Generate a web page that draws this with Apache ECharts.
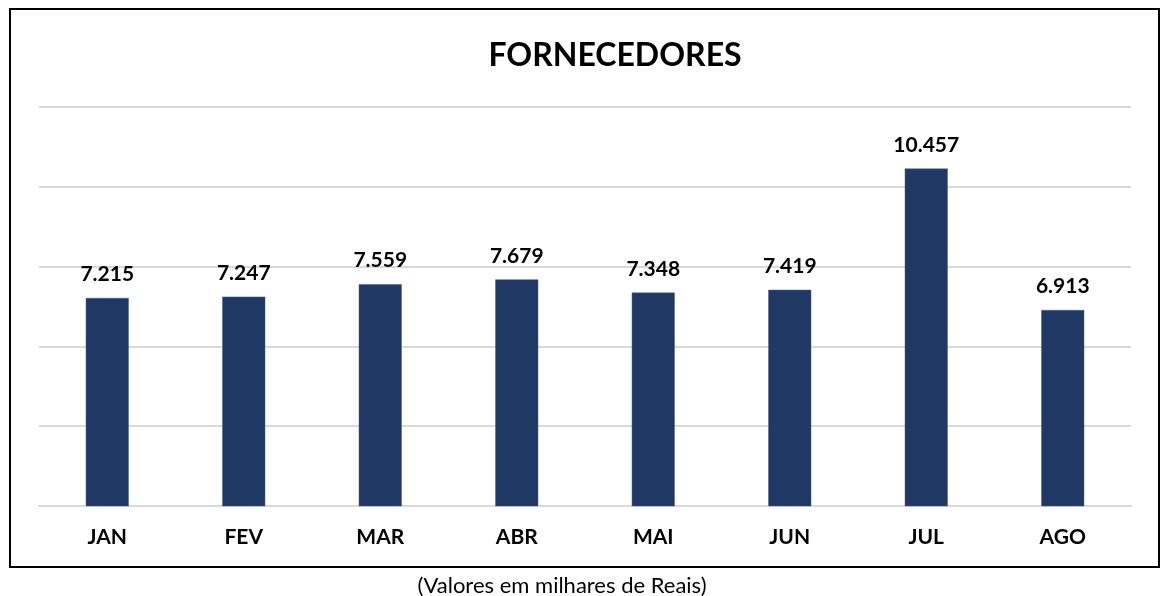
<!DOCTYPE html>
<html>
<head>
<meta charset="utf-8">
<title>Fornecedores</title>
<script src="https://cdn.jsdelivr.net/npm/echarts@6/dist/echarts.min.js"></script>
<style>
  html, body { margin: 0; padding: 0; background: #fff; }
  #main { width: 1163px; height: 596px; }
</style>
</head>
<body>
<div id="main"></div>
<script>
// valores em milhares de reais
var meses = ['JAN', 'FEV', 'MAR', 'ABR', 'MAI', 'JUN', 'JUL', 'AGO'];
var valores = [7.215, 7.247, 7.559, 7.679, 7.348, 7.419, 10.457, 6.913];

var fonte = 'Lato, "Open Sans", sans-serif';
var chart = echarts.init(document.getElementById('main'));

chart.setOption({
  backgroundColor: '#fff',
  animation: false,
  title: [{
    text: 'FORNECEDORES',
    left: 610, top: 35, textAlign: 'center',
    textStyle: { fontFamily: fonte, fontWeight: 'bold', fontSize: 32, color: '#000' }
  }, {
    text: '(Valores em milhares de Reais)',
    left: 557, top: 570, textAlign: 'center',
    textStyle: { fontFamily: fonte, fontWeight: 'normal', fontSize: 22, color: '#000' }
  }],
  graphic: [{
    type: 'rect',
    shape: { x: 10, y: 9, width: 1149, height: 558 },
    style: { fill: 'none', stroke: '#000', lineWidth: 2 },
    silent: true
  }],
  grid: { left: 39, right: 32, top: 107, bottom: 90 },
  xAxis: {
    type: 'category',
    data: meses,
    axisLine: { show: true, lineStyle: { color: '#d9d9d9', width: 2 } },
    axisTick: { show: false },
    axisLabel: { color: '#000', fontFamily: fonte, fontWeight: 'bold', fontSize: 21, margin: 21 }
  },
  yAxis: {
    type: 'value',
    min: 2, max: 12, interval: 2,
    axisLine: { show: false },
    axisTick: { show: false },
    axisLabel: { show: false },
    splitLine: { lineStyle: { color: '#d9d9d9', width: 2 } }
  },
  series: [{
    type: 'bar',
    data: valores,
    barWidth: 43,
    itemStyle: { color: '#203864', borderColor: '#4a5f8a', borderWidth: 0.5 },
    label: {
      show: true, position: 'top', distance: 13,
      color: '#000', fontFamily: fonte, fontWeight: 'bold', fontSize: 21,
      formatter: function (p) { return p.value.toFixed(3); }
    }
  }]
});
</script>
</body>
</html>
